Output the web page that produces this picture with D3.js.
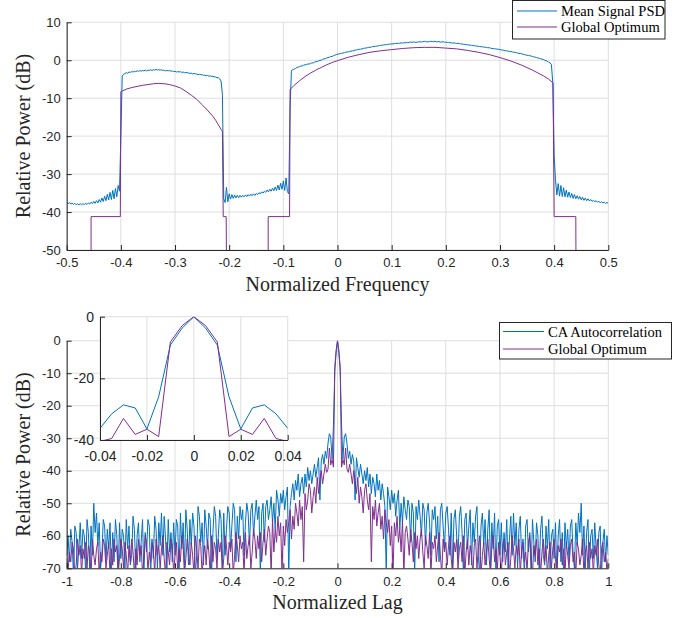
<!DOCTYPE html>
<html>
<head>
<meta charset="utf-8">
<script src="https://cdn.jsdelivr.net/npm/d3@7"></script>
<style>
  body { margin: 0; background: #fff; }
  svg { display: block; }
  .tick text { font-family: 'Liberation Sans', Arial, sans-serif; font-size: 13px; fill: #262626; }
  .inset .tick text { font-size: 14px; }
  .label { font-family: 'Liberation Serif', serif; font-size: 20px; fill: #262626; }
  .legend text { font-family: 'Liberation Serif', serif; font-size: 14.5px; fill: #000; }
</style>
</head>
<body>
<svg id="chart" width="688" height="618"></svg>
<script>
// ---- top panel: PSD, frequency grid -0.5 .. 0.5 step 0.0025 ----
const freqTicks = [-0.5, -0.4, -0.3, -0.2, -0.1, 0, 0.1, 0.2, 0.3, 0.4, 0.5]
const psdTicks = [-50, -40, -30, -20, -10, 0, 10]
const psdFreq = d3.range(401).map(i => -0.5 + i * 0.0025)
const meanPsd = [
  -37.4, -37.8, -37.5, -37.9, -37.6, -38.0, -37.7, -38.1, -37.8, -38.1,
  -37.8, -38.1, -37.8, -38.0, -37.7, -38.0, -37.6, -37.9, -37.4, -37.8,
  -37.2, -37.7, -37.0, -37.6, -36.7, -37.4, -36.3, -37.2, -35.8, -37.0,
  -35.3, -36.8, -34.8, -36.7, -34.3, -36.5, -33.8, -36.0, -33.0, -34.5,
  -20.0, -4.2, -3.7, -3.5, -3.3, -3.4, -3.1, -3.2, -3.0, -3.1,
  -2.9, -3.0, -2.8, -2.9, -2.7, -2.9, -2.7, -2.8, -2.6, -2.8,
  -2.6, -2.7, -2.5, -2.7, -2.5, -2.6, -2.4, -2.6, -2.5, -2.6,
  -2.5, -2.7, -2.6, -2.8, -2.7, -2.8, -2.7, -2.9, -2.8, -3.0,
  -2.9, -3.1, -3.0, -3.1, -3.0, -3.2, -3.1, -3.3, -3.2, -3.3,
  -3.3, -3.5, -3.4, -3.6, -3.5, -3.6, -3.6, -3.8, -3.7, -3.8,
  -3.8, -4.0, -3.9, -4.1, -4.0, -4.2, -4.1, -4.3, -4.2, -4.4,
  -4.4, -4.6, -4.6, -4.9, -5.5, -9.0, -36.5, -37.5, -33.5, -37.3,
  -35.2, -36.6, -35.4, -36.4, -35.5, -36.3, -35.6, -36.2, -35.6, -36.1,
  -35.6, -36.0, -35.5, -35.9, -35.4, -35.8, -35.3, -35.7, -35.2, -35.6,
  -35.1, -35.4, -34.9, -35.2, -34.7, -35.0, -34.5, -34.8, -34.2, -34.7,
  -34.0, -34.5, -33.7, -34.4, -33.4, -34.3, -32.9, -34.2, -32.4, -34.0,
  -31.8, -34.3, -31.0, -34.6, -35.2, -12.0, -2.7, -2.5, -2.3, -2.2,
  -1.9, -1.8, -1.7, -1.5, -1.5, -1.3, -1.2, -1.1, -1.0, -1.0,
  -0.9, -0.7, -0.7, -0.5, -0.4, -0.3, -0.2, 0.0, 0.0, 0.2,
  0.4, 0.4, 0.6, 0.7, 0.8, 1.0, 1.0, 1.2, 1.3, 1.5,
  1.6, 1.6, 1.8, 1.8, 1.9, 2.0, 2.1, 2.2, 2.2, 2.3,
  2.4, 2.5, 2.5, 2.7, 2.7, 2.8, 2.9, 2.9, 3.0, 3.1,
  3.2, 3.2, 3.3, 3.4, 3.4, 3.5, 3.6, 3.6, 3.7, 3.7,
  3.8, 3.9, 3.9, 4.0, 4.0, 4.1, 4.1, 4.2, 4.2, 4.3,
  4.3, 4.3, 4.4, 4.4, 4.5, 4.4, 4.5, 4.6, 4.5, 4.6,
  4.6, 4.7, 4.6, 4.7, 4.8, 4.7, 4.8, 4.8, 4.7, 4.8,
  4.8, 4.9, 4.8, 4.9, 4.9, 5.0, 4.8, 4.9, 4.9, 5.0,
  4.9, 4.9, 5.0, 4.8, 4.9, 4.9, 4.8, 4.8, 4.9, 4.7,
  4.8, 4.7, 4.7, 4.6, 4.6, 4.5, 4.6, 4.5, 4.4, 4.5,
  4.4, 4.3, 4.3, 4.2, 4.2, 4.1, 4.1, 4.0, 4.0, 3.9,
  3.9, 3.8, 3.8, 3.7, 3.7, 3.6, 3.6, 3.5, 3.5, 3.4,
  3.4, 3.3, 3.3, 3.2, 3.1, 3.1, 3.0, 3.0, 2.9, 2.9,
  2.8, 2.7, 2.7, 2.6, 2.5, 2.5, 2.4, 2.3, 2.3, 2.2,
  2.1, 2.1, 2.0, 1.9, 1.8, 1.8, 1.7, 1.6, 1.5, 1.4,
  1.3, 1.3, 1.2, 1.1, 1.0, 0.9, 0.8, 0.7, 0.6, 0.5,
  0.4, 0.3, 0.2, 0.0, -0.1, -0.3, -0.5, -0.7, -1.2, -6.0,
  -25.0, -31.5, -35.5, -32.5, -35.8, -33.0, -35.9, -33.6, -36.0, -34.2,
  -36.1, -34.7, -36.2, -35.1, -36.4, -35.4, -36.5, -35.7, -36.6, -35.9,
  -36.8, -36.1, -36.9, -36.3, -37.0, -36.5, -37.1, -36.7, -37.2, -36.9,
  -37.3, -37.0, -37.4, -37.2, -37.5, -37.3, -37.6, -37.4, -37.7, -37.5,
  -37.7
]
// global optimum PSD, breakpoints (values below -50 fall off the axes)
const optFreq = [
  -0.5, -0.455, -0.455, -0.401, -0.4, -0.39, -0.38, -0.37, -0.36, -0.35, -0.34, -0.33,
  -0.32, -0.31, -0.3, -0.29, -0.28, -0.27, -0.26, -0.25, -0.24, -0.23, -0.225, -0.22,
  -0.215, -0.2125, -0.211, -0.2055, -0.204, -0.128, -0.128, -0.0885, -0.0875, -0.08,
  -0.07, -0.06, -0.05, -0.04, -0.03, -0.02, -0.01, 0, 0.02, 0.04, 0.06, 0.08, 0.1,
  0.12, 0.14, 0.16, 0.18, 0.2, 0.22, 0.24, 0.26, 0.28, 0.3, 0.32, 0.34, 0.36, 0.38,
  0.39, 0.398, 0.4, 0.44, 0.441, 0.5
]
const optPsd = [
  -80, -80, -41.2, -41.2, -8.3, -7.6, -7.2, -6.9, -6.6, -6.4, -6.2, -6.1,
  -6.2, -6.4, -6.8, -7.3, -8.2, -9.2, -10.3, -11.7, -13.2, -14.8, -15.8, -17.0,
  -18.2, -18.8, -41.2, -41.2, -80, -80, -41.2, -41.2, -7.7, -6.6,
  -5.4, -4.3, -3.4, -2.6, -1.9, -1.2, -0.6, -0.1, 0.8, 1.5, 2.1, 2.5, 2.8,
  3.1, 3.3, 3.4, 3.4, 3.2, 3.0, 2.6, 2.1, 1.5, 0.7, -0.2, -1.3, -2.6, -4.1,
  -5.0, -6.0, -41.2, -41.2, -80, -80
]

// ---- bottom panel: autocorrelation, lag grid -1 .. 1 step 0.005 ----
const lagTicks = [-1, -0.8, -0.6, -0.4, -0.2, 0, 0.2, 0.4, 0.6, 0.8, 1]
const corrTicks = [-70, -60, -50, -40, -30, -20, -10, 0]
const insetLagTicks = [-0.04, -0.02, 0, 0.02, 0.04]
const insetCorrTicks = [-40, -20, 0]
const lags = d3.range(401).map(i => -1 + i * 0.005)
const caAuto = [
  -66, -60, -68, -58, -62, -72, -57, -59, -70, -64,
  -56, -67, -58, -60, -72, -55, -59, -70, -57, -66,
  -50, -59, -53, -63, -56, -70, -66, -55, -57, -68,
  -58, -64, -56, -72, -59, -68, -55, -60, -72, -56,
  -67, -58, -60, -70, -55, -64, -57, -69, -66, -54,
  -58, -71, -60, -56, -68, -62, -55, -72, -59, -65,
  -55, -57, -72, -61, -67, -54, -58, -70, -56, -63,
  -53, -66, -54, -61, -71, -55, -65, -59, -68, -56,
  -66, -55, -57, -72, -53, -64, -56, -70, -52, -58,
  -69, -55, -63, -53, -57, -72, -66, -51, -54, -62,
  -56, -69, -52, -57, -64, -53, -55, -72, -59, -51,
  -54, -67, -60, -52, -55, -70, -53, -66, -58, -51,
  -53, -64, -57, -50, -52, -68, -54, -61, -51, -55,
  -52, -66, -56, -50, -53, -63, -52, -50, -60, -54,
  -49, -55, -51, -72, -53, -50, -62, -51, -49, -55,
  -52, -48, -56, -50, -58, -46, -49, -54, -47, -50,
  -46, -52, -48, -45, -72, -51, -47, -44, -49, -43,
  -46, -41, -48, -44, -42, -47, -41, -45, -39, -43,
  -40, -44, -41, -38, -42, -39, -36, -49, -37, -35,
  -38, -34, -36.2, -31.5, -28.6, -29.6, -36.4, -26, -9.2, -3.7,
  0,
  -3.7, -9.2, -26, -36.4, -29.6, -28.6, -31.5, -36.2, -34, -38,
  -35, -37, -49, -36, -39, -42, -38, -41, -44, -40,
  -43, -39, -45, -41, -47, -42, -44, -48, -41, -46,
  -43, -49, -44, -47, -51, -72, -45, -48, -52, -46,
  -50, -47, -54, -49, -46, -58, -50, -56, -48, -52,
  -55, -49, -51, -62, -50, -53, -72, -51, -55, -49,
  -54, -60, -50, -52, -63, -53, -50, -56, -66, -52,
  -55, -51, -61, -54, -68, -52, -50, -57, -64, -53,
  -51, -58, -66, -53, -70, -55, -52, -60, -67, -54,
  -51, -59, -72, -55, -53, -64, -57, -52, -69, -56,
  -62, -54, -51, -66, -72, -57, -53, -63, -55, -69,
  -58, -52, -70, -56, -64, -53, -72, -57, -55, -66,
  -56, -68, -59, -65, -55, -71, -61, -54, -66, -53,
  -63, -56, -70, -58, -54, -67, -61, -72, -57, -55,
  -65, -59, -72, -55, -62, -68, -56, -60, -71, -58,
  -54, -66, -69, -57, -64, -55, -70, -60, -58, -67,
  -56, -72, -60, -55, -68, -59, -72, -56, -64, -58,
  -68, -57, -55, -66, -70, -56, -63, -53, -59, -50,
  -66, -57, -70, -59, -55, -72, -60, -58, -67, -56,
  -64, -70, -59, -57, -72, -62, -58, -68, -60, -66
]
const optAuto = [
  -67, -71, -65, -68, -62, -64, -72, -69, -61, -66,
  -63, -72, -64, -67, -62, -70, -63, -65, -72, -61,
  -66, -69, -64, -62, -72, -65, -68, -61, -63, -70,
  -66, -62, -72, -64, -69, -61, -65, -63, -72, -67,
  -61, -64, -70, -62, -66, -72, -63, -68, -61, -65,
  -72, -64, -69, -61, -66, -63, -72, -67, -60, -62,
  -71, -65, -68, -62, -64, -72, -61, -66, -63, -70,
  -64, -60, -67, -72, -62, -65, -69, -61, -63, -72,
  -66, -62, -71, -64, -68, -60, -63, -72, -67, -61,
  -65, -69, -62, -66, -72, -60, -64, -70, -61, -63,
  -72, -66, -63, -69, -61, -65, -72, -60, -68, -62,
  -64, -70, -61, -65, -62, -72, -67, -60, -63, -69,
  -62, -65, -61, -72, -66, -59, -63, -68, -60, -64,
  -62, -72, -59, -67, -63, -60, -70, -65, -58, -61,
  -67, -60, -64, -59, -68, -62, -58, -66, -61, -57,
  -59, -72, -55, -65, -58, -62, -54, -60, -56, -72,
  -57, -63, -55, -59, -56, -52, -61, -54, -58, -50,
  -53, -57, -49, -55, -51, -68, -47, -52, -49, -44,
  -46, -53, -48, -45, -50, -42, -47, -43, -40, -44,
  -41, -38, -40.5, -39.5, -33, -38.2, -36.5, -38.9, -8.2, -2.9,
  0,
  -2.9, -8.2, -38.9, -36.5, -38.2, -33, -39.5, -40.5, -38, -41,
  -44, -40, -43, -47, -42, -50, -45, -48, -53, -46,
  -44, -49, -52, -47, -68, -51, -55, -49, -57, -53,
  -50, -58, -54, -61, -52, -56, -59, -55, -63, -57,
  -72, -56, -60, -54, -62, -58, -65, -55, -72, -59,
  -57, -61, -66, -58, -62, -68, -59, -64, -60, -67,
  -61, -58, -65, -70, -60, -63, -67, -59, -72, -62,
  -64, -60, -68, -63, -59, -66, -72, -61, -65, -62,
  -69, -63, -60, -67, -72, -62, -65, -61, -70, -64,
  -62, -68, -60, -72, -65, -61, -69, -63, -66, -72,
  -63, -61, -70, -64, -60, -72, -66, -62, -69, -65,
  -61, -67, -72, -63, -60, -68, -64, -71, -62, -66,
  -72, -63, -61, -69, -65, -62, -72, -67, -60, -64,
  -70, -63, -66, -61, -72, -64, -62, -68, -65, -71,
  -62, -60, -67, -72, -63, -66, -61, -69, -64, -72,
  -65, -61, -68, -63, -72, -66, -62, -70, -64, -61,
  -67, -72, -63, -65, -61, -69, -64, -72, -62, -66,
  -70, -63, -61, -68, -65, -72, -62, -64, -69, -66,
  -61, -72, -65, -63, -70, -62, -67, -64, -72, -63,
  -66, -61, -69, -72, -64, -62, -68, -65, -71, -67
]

const ink = '#262626'
const gridColor = '#dedede'
const blue = '#0072BD'
const purple = '#7E2F8E'

const svg = d3.select('#chart')
const defs = svg.append('defs')

// grid + clip for one set of axes
function frame (g, id, x, y, xTicks, yTicks) {
  const [x0, x1] = x.range()
  const [y0, y1] = y.range()
  defs.append('clipPath').attr('id', id).append('rect')
    .attr('x', x0).attr('y', y1).attr('width', x1 - x0).attr('height', y0 - y1)
  g.selectAll('vgrid').data(xTicks).enter().append('line')
    .attr('x1', d => x(d)).attr('x2', d => x(d)).attr('y1', y0).attr('y2', y1)
    .attr('stroke', gridColor)
  g.selectAll('hgrid').data(yTicks).enter().append('line')
    .attr('x1', x0).attr('x2', x1).attr('y1', d => y(d)).attr('y2', d => y(d))
    .attr('stroke', gridColor)
}

function trace (g, id, x, y, xs, ys, color) {
  g.append('path')
    .datum(xs.map((v, i) => [v, ys[i]]))
    .attr('clip-path', `url(#${id})`)
    .attr('fill', 'none')
    .attr('stroke', color)
    .attr('stroke-width', 1)
    .attr('stroke-linejoin', 'round')
    .attr('d', d3.line().x(d => x(d[0])).y(d => y(d[1])))
}

function axes (g, x, y, xTicks, yTicks, padX) {
  g.append('g').attr('transform', `translate(0,${y.range()[0]})`)
    .call(d3.axisBottom(x).tickValues(xTicks).tickFormat(d => String(d))
      .tickSizeInner(-5).tickSizeOuter(0).tickPadding(padX))
  g.append('g').attr('transform', `translate(${x.range()[0]},0)`)
    .call(d3.axisLeft(y).tickValues(yTicks).tickFormat(d => String(d))
      .tickSizeInner(-5).tickSizeOuter(0).tickPadding(6))
  g.selectAll('.domain, .tick line').attr('stroke', ink)
}

function legend (bx, by, bw, bh, rows, lx0, lx1, tx) {
  const g = svg.append('g').attr('class', 'legend')
  g.append('rect').attr('x', bx).attr('y', by).attr('width', bw).attr('height', bh)
    .attr('fill', '#fff').attr('stroke', ink)
  rows.forEach(r => {
    g.append('line').attr('x1', lx0).attr('x2', lx1).attr('y1', r.y).attr('y2', r.y)
      .attr('stroke', r.color).attr('stroke-width', 1)
    g.append('text').attr('x', tx).attr('y', r.y + 5).text(r.name)
  })
}

// ---------- top panel ----------
const xF = d3.scaleLinear().domain([-0.5, 0.5]).range([66.7, 608.3])
const yF = d3.scaleLinear().domain([-50, 10]).range([250, 22.3])
const psdPanel = svg.append('g')
frame(psdPanel, 'clipTop', xF, yF, freqTicks, psdTicks)
trace(psdPanel, 'clipTop', xF, yF, psdFreq, meanPsd, blue)
trace(psdPanel, 'clipTop', xF, yF, optFreq, optPsd, purple)
axes(psdPanel, xF, yF, freqTicks, psdTicks, 8)
psdPanel.append('text').attr('class', 'label').attr('x', 337.5).attr('y', 291)
  .attr('text-anchor', 'middle').text('Normalized Frequency')
psdPanel.append('text').attr('class', 'label').attr('transform', 'translate(30,136) rotate(-90)')
  .attr('text-anchor', 'middle').text('Relative Power (dB)')

// ---------- bottom panel ----------
const xL = d3.scaleLinear().domain([-1, 1]).range([66.7, 608.3])
const yL = d3.scaleLinear().domain([-70, 0]).range([568.3, 340.7])
const corrPanel = svg.append('g')
frame(corrPanel, 'clipBottom', xL, yL, lagTicks, corrTicks)
trace(corrPanel, 'clipBottom', xL, yL, lags, caAuto, blue)
trace(corrPanel, 'clipBottom', xL, yL, lags, optAuto, purple)
axes(corrPanel, xL, yL, lagTicks, corrTicks, 8)
corrPanel.append('text').attr('class', 'label').attr('x', 337.5).attr('y', 609)
  .attr('text-anchor', 'middle').text('Normalized Lag')
corrPanel.append('text').attr('class', 'label').attr('transform', 'translate(30,454.5) rotate(-90)')
  .attr('text-anchor', 'middle').text('Relative Power (dB)')

// ---------- inset (zoom around zero lag) ----------
const xI = d3.scaleLinear().domain([-0.04, 0.04]).range([100, 287.7])
const yI = d3.scaleLinear().domain([-40, 0]).range([440, 316.7])
const inset = svg.append('g').attr('class', 'inset')
inset.append('rect').attr('x', 100).attr('y', 316.7).attr('width', 187.7).attr('height', 123.3)
  .attr('fill', '#fff')
frame(inset, 'clipInset', xI, yI, insetLagTicks, insetCorrTicks)
trace(inset, 'clipInset', xI, yI, lags, caAuto, blue)
trace(inset, 'clipInset', xI, yI, lags, optAuto, purple)
axes(inset, xI, yI, insetLagTicks, insetCorrTicks, 11)

// ---------- legends ----------
legend(512.5, 0.5, 152.5, 38.5, [
  { name: 'Mean Signal PSD', color: blue, y: 11 },
  { name: 'Global Optimum', color: purple, y: 27 }
], 517, 557, 561)
legend(499.5, 322.5, 172, 36.5, [
  { name: 'CA Autocorrelation', color: blue, y: 331.5 },
  { name: 'Global Optimum', color: purple, y: 349 }
], 503, 544, 548)
</script>
</body>
</html>
